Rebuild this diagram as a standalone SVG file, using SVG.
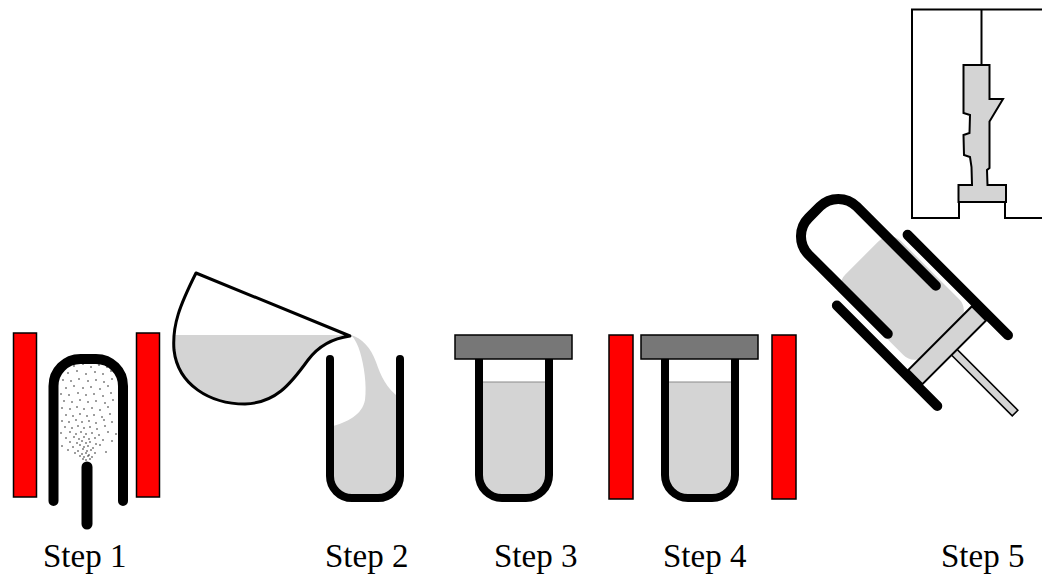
<svg xmlns="http://www.w3.org/2000/svg" width="1042" height="577" viewBox="0 0 1042 577">
  <style>
    .heater { fill: #ff0000; stroke: #000; stroke-width: 1.5; }
    .tube { fill: none; stroke: #000; stroke-width: 8; stroke-linecap: round; stroke-linejoin: round; }
    .liquid { fill: #d4d4d4; stroke: none; }
    .cap { fill: #777777; stroke: #000; stroke-width: 1.5; }
    .level { stroke: #8a8a8a; stroke-width: 1.2; }
    .dot { fill: #222; }
    .label { font-family: "Liberation Serif", "Times New Roman", serif; font-size: 33px; fill: #000; }
    .outline { fill: none; stroke: #000; stroke-width: 2; }
    .part { fill: #d4d4d4; stroke: #000; stroke-width: 2; stroke-linejoin: miter; }
  </style>
  <defs>
    <clipPath id="beakerClip">
      <path d="M196,273 L350,336 C335,338 320,344 308,360 C290,385 275,403 245,404 C210,404 178,385 174,350 C172,325 180,305 196,273 Z"/>
    </clipPath>
  </defs>

  <rect width="1042" height="577" fill="#fff"/>

  <!-- Step 1: inverted tube between two heaters, powder blown in -->
  <g id="step1">
    <rect class="heater" x="13.5" y="333" width="23" height="164"/>
    <rect class="heater" x="136.5" y="333" width="23" height="164"/>
    <g id="powder">
      <circle class="dot" cx="74" cy="366" r="0.8"/><circle class="dot" cx="83" cy="364" r="0.8"/><circle class="dot" cx="91" cy="367" r="0.8"/><circle class="dot" cx="99" cy="365" r="0.8"/><circle class="dot" cx="107" cy="367" r="0.8"/>
      <circle class="dot" cx="68" cy="373" r="0.8"/><circle class="dot" cx="77" cy="371" r="0.8"/><circle class="dot" cx="86" cy="374" r="0.8"/><circle class="dot" cx="95" cy="372" r="0.8"/><circle class="dot" cx="103" cy="374" r="0.8"/><circle class="dot" cx="111" cy="371" r="0.8"/>
      <circle class="dot" cx="63" cy="380" r="0.8"/><circle class="dot" cx="71" cy="381" r="0.8"/><circle class="dot" cx="79" cy="379" r="0.8"/><circle class="dot" cx="88" cy="381" r="0.8"/><circle class="dot" cx="96" cy="380" r="0.8"/><circle class="dot" cx="104" cy="382" r="0.8"/><circle class="dot" cx="112" cy="379" r="0.8"/>
      <circle class="dot" cx="66" cy="388" r="0.8"/><circle class="dot" cx="74" cy="386" r="0.8"/><circle class="dot" cx="83" cy="388" r="0.8"/><circle class="dot" cx="91" cy="387" r="0.8"/><circle class="dot" cx="100" cy="389" r="0.8"/><circle class="dot" cx="108" cy="386" r="0.8"/>
      <circle class="dot" cx="61" cy="394" r="0.8"/><circle class="dot" cx="69" cy="395" r="0.8"/><circle class="dot" cx="78" cy="393" r="0.8"/><circle class="dot" cx="86" cy="395" r="0.8"/><circle class="dot" cx="94" cy="394" r="0.8"/><circle class="dot" cx="103" cy="396" r="0.8"/><circle class="dot" cx="111" cy="393" r="0.8"/>
      <circle class="dot" cx="64" cy="401" r="0.8"/><circle class="dot" cx="72" cy="402" r="0.8"/><circle class="dot" cx="80" cy="400" r="0.8"/><circle class="dot" cx="88" cy="402" r="0.8"/><circle class="dot" cx="96" cy="401" r="0.8"/><circle class="dot" cx="105" cy="403" r="0.8"/><circle class="dot" cx="113" cy="400" r="0.8"/>
      <circle class="dot" cx="62" cy="408" r="0.8"/><circle class="dot" cx="70" cy="409" r="0.8"/><circle class="dot" cx="77" cy="407" r="0.8"/><circle class="dot" cx="84" cy="409" r="0.8"/><circle class="dot" cx="92" cy="408" r="0.8"/><circle class="dot" cx="100" cy="410" r="0.8"/><circle class="dot" cx="108" cy="407" r="0.8"/>
      <circle class="dot" cx="66" cy="415" r="0.8"/><circle class="dot" cx="73" cy="416" r="0.8"/><circle class="dot" cx="80" cy="414" r="0.8"/><circle class="dot" cx="87" cy="416" r="0.8"/><circle class="dot" cx="94" cy="415" r="0.8"/><circle class="dot" cx="102" cy="417" r="0.8"/><circle class="dot" cx="110" cy="414" r="0.8"/>
      <circle class="dot" cx="62" cy="421" r="0.8"/><circle class="dot" cx="69" cy="422" r="0.8"/><circle class="dot" cx="76" cy="420" r="0.8"/><circle class="dot" cx="82" cy="422" r="0.8"/><circle class="dot" cx="89" cy="421" r="0.8"/><circle class="dot" cx="96" cy="423" r="0.8"/><circle class="dot" cx="104" cy="420" r="0.8"/><circle class="dot" cx="112" cy="422" r="0.8"/>
      <circle class="dot" cx="65" cy="427" r="0.8"/><circle class="dot" cx="72" cy="428" r="0.8"/><circle class="dot" cx="78" cy="426" r="0.8"/><circle class="dot" cx="84" cy="428" r="0.8"/><circle class="dot" cx="90" cy="427" r="0.8"/><circle class="dot" cx="97" cy="429" r="0.8"/><circle class="dot" cx="105" cy="426" r="0.8"/>
      <circle class="dot" cx="61" cy="433" r="0.8"/><circle class="dot" cx="70" cy="432" r="0.8"/><circle class="dot" cx="76" cy="434" r="0.8"/><circle class="dot" cx="81" cy="432" r="0.8"/><circle class="dot" cx="86" cy="434" r="0.8"/><circle class="dot" cx="92" cy="433" r="0.8"/><circle class="dot" cx="99" cy="435" r="0.8"/><circle class="dot" cx="108" cy="432" r="0.8"/><circle class="dot" cx="116" cy="434" r="0.8"/>
      <circle class="dot" cx="66" cy="438" r="0.8"/><circle class="dot" cx="74" cy="437" r="0.8"/><circle class="dot" cx="79" cy="439" r="0.8"/><circle class="dot" cx="84" cy="437" r="0.8"/><circle class="dot" cx="89" cy="439" r="0.8"/><circle class="dot" cx="95" cy="438" r="0.8"/><circle class="dot" cx="103" cy="440" r="0.8"/>
      <circle class="dot" cx="70" cy="442" r="0.8"/><circle class="dot" cx="77" cy="443" r="0.8"/><circle class="dot" cx="82" cy="441" r="0.8"/><circle class="dot" cx="86" cy="443" r="0.8"/><circle class="dot" cx="90" cy="442" r="0.8"/><circle class="dot" cx="96" cy="444" r="0.8"/><circle class="dot" cx="112" cy="441" r="0.8"/>
      <circle class="dot" cx="62" cy="446" r="0.8"/><circle class="dot" cx="73" cy="447" r="0.8"/><circle class="dot" cx="80" cy="445" r="0.8"/><circle class="dot" cx="84" cy="447" r="0.8"/><circle class="dot" cx="88" cy="446" r="0.8"/><circle class="dot" cx="93" cy="448" r="0.8"/><circle class="dot" cx="100" cy="445" r="0.8"/>
      <circle class="dot" cx="68" cy="450" r="0.8"/><circle class="dot" cx="78" cy="451" r="0.8"/><circle class="dot" cx="83" cy="449" r="0.8"/><circle class="dot" cx="87" cy="451" r="0.8"/><circle class="dot" cx="91" cy="450" r="0.8"/><circle class="dot" cx="106" cy="452" r="0.8"/>
      <circle class="dot" cx="75" cy="453" r="0.8"/><circle class="dot" cx="82" cy="454" r="0.8"/><circle class="dot" cx="86" cy="453" r="0.8"/><circle class="dot" cx="89" cy="455" r="0.8"/><circle class="dot" cx="95" cy="453" r="0.8"/>
      <circle class="dot" cx="80" cy="456" r="0.8"/><circle class="dot" cx="84" cy="457" r="0.8"/><circle class="dot" cx="88" cy="456" r="0.8"/><circle class="dot" cx="92" cy="457" r="0.8"/>
      <circle class="dot" cx="83" cy="459" r="0.8"/><circle class="dot" cx="86" cy="460" r="0.8"/><circle class="dot" cx="90" cy="459" r="0.8"/>
    </g>
    <path d="M53.5,501 V386 A27,27 0 0 1 80.5,359 H96 A27,27 0 0 1 123,386 V501" fill="none" stroke="#000" stroke-width="10" stroke-linecap="round"/>
    <line x1="87" y1="467" x2="87" y2="524" stroke="#000" stroke-width="11" stroke-linecap="round"/>
  </g>

  <!-- Step 2: pouring the liquid from a jug into the tube -->
  <g id="step2">
    <rect class="liquid" x="160" y="335" width="200" height="80" clip-path="url(#beakerClip)"/>
    <path d="M196,273 L350,336 C335,338 320,344 308,360 C290,385 275,403 245,404 C210,404 178,385 174,350 C172,325 180,305 196,273 Z" fill="none" stroke="#000" stroke-width="3" stroke-linejoin="round"/>
    <path class="liquid" d="M351,335 C362,338 371,348 376,362 C381,376 386,388 400,398 V476 A22,22 0 0 1 378,498 H352 A22,22 0 0 1 330,476 V427 C348,422 362,415 365,400 C367,385 364,365 360,352 C358,345 355,339 351,335 Z"/>
    <path class="tube" d="M330,359 V476 A22,22 0 0 0 352,498 H378 A22,22 0 0 0 400,476 V359"/>
  </g>

  <!-- Step 3: capped tube -->
  <g id="step3">
    <path class="liquid" d="M479,382 H549 V475 A23,23 0 0 1 526,498 H502 A23,23 0 0 1 479,475 Z"/>
    <line class="level" x1="482" y1="382" x2="546" y2="382"/>
    <path class="tube" d="M479,359 V475 A23,23 0 0 0 502,498 H526 A23,23 0 0 0 549,475 V359"/>
    <rect class="cap" x="455" y="335" width="117" height="24"/>
  </g>

  <!-- Step 4: capped tube heated -->
  <g id="step4">
    <rect class="heater" x="609" y="335" width="24" height="164"/>
    <rect class="heater" x="772" y="335" width="24" height="164"/>
    <path class="liquid" d="M665,382 H735 V475 A23,23 0 0 1 712,498 H688 A23,23 0 0 1 665,475 Z"/>
    <line class="level" x1="668" y1="382" x2="732" y2="382"/>
    <path class="tube" d="M665,359 V475 A23,23 0 0 0 688,498 H712 A23,23 0 0 0 735,475 V359"/>
    <rect class="cap" x="641" y="335" width="117" height="24"/>
  </g>

  <!-- Step 5: tilted tube pushed by a piston -->
  <g id="step5" transform="translate(810,208) rotate(45)">
    <rect class="liquid" x="72" y="-41" width="114" height="79" rx="16"/>
    <path d="M144,-34 H32 A26,26 0 0 0 6,-8 V8 A26,26 0 0 0 32,34 H144" fill="none" stroke="#000" stroke-width="10" stroke-linecap="round"/>
    <line x1="88" y1="-50" x2="230" y2="-50" stroke="#000" stroke-width="10" stroke-linecap="round"/>
    <line x1="88" y1="50" x2="230" y2="50" stroke="#000" stroke-width="10" stroke-linecap="round"/>
    <rect x="204" y="-4" width="86" height="8" fill="#d4d4d4" stroke="#000" stroke-width="1.5"/>
    <rect x="184" y="-45" width="20" height="90" fill="#d4d4d4" stroke="#000" stroke-width="2"/>
  </g>

  <!-- Mould with the formed part -->
  <g id="mold">
    <path class="outline" d="M1044,9.5 H912 V218 H959 V202 H1005 V218 H1044"/>
    <line x1="981.5" y1="9.5" x2="981.5" y2="65" stroke="#000" stroke-width="2"/>
    <path class="part" d="M963.5,65 H989.5 V99 H1003 L989.5,121.5 V168 L987,170 L987.5,185 H1006 V202 H958.5 V185 H972 L971.5,167 L970,157 L964,155 L963.5,135 L969.5,133 L970,115 L963.5,113 Z"/>
  </g>

  <g id="labels">
    <text class="label" x="43" y="567">Step 1</text>
    <text class="label" x="325" y="567">Step 2</text>
    <text class="label" x="494" y="567">Step 3</text>
    <text class="label" x="663" y="567">Step 4</text>
    <text class="label" x="941" y="567">Step 5</text>
  </g>
</svg>
